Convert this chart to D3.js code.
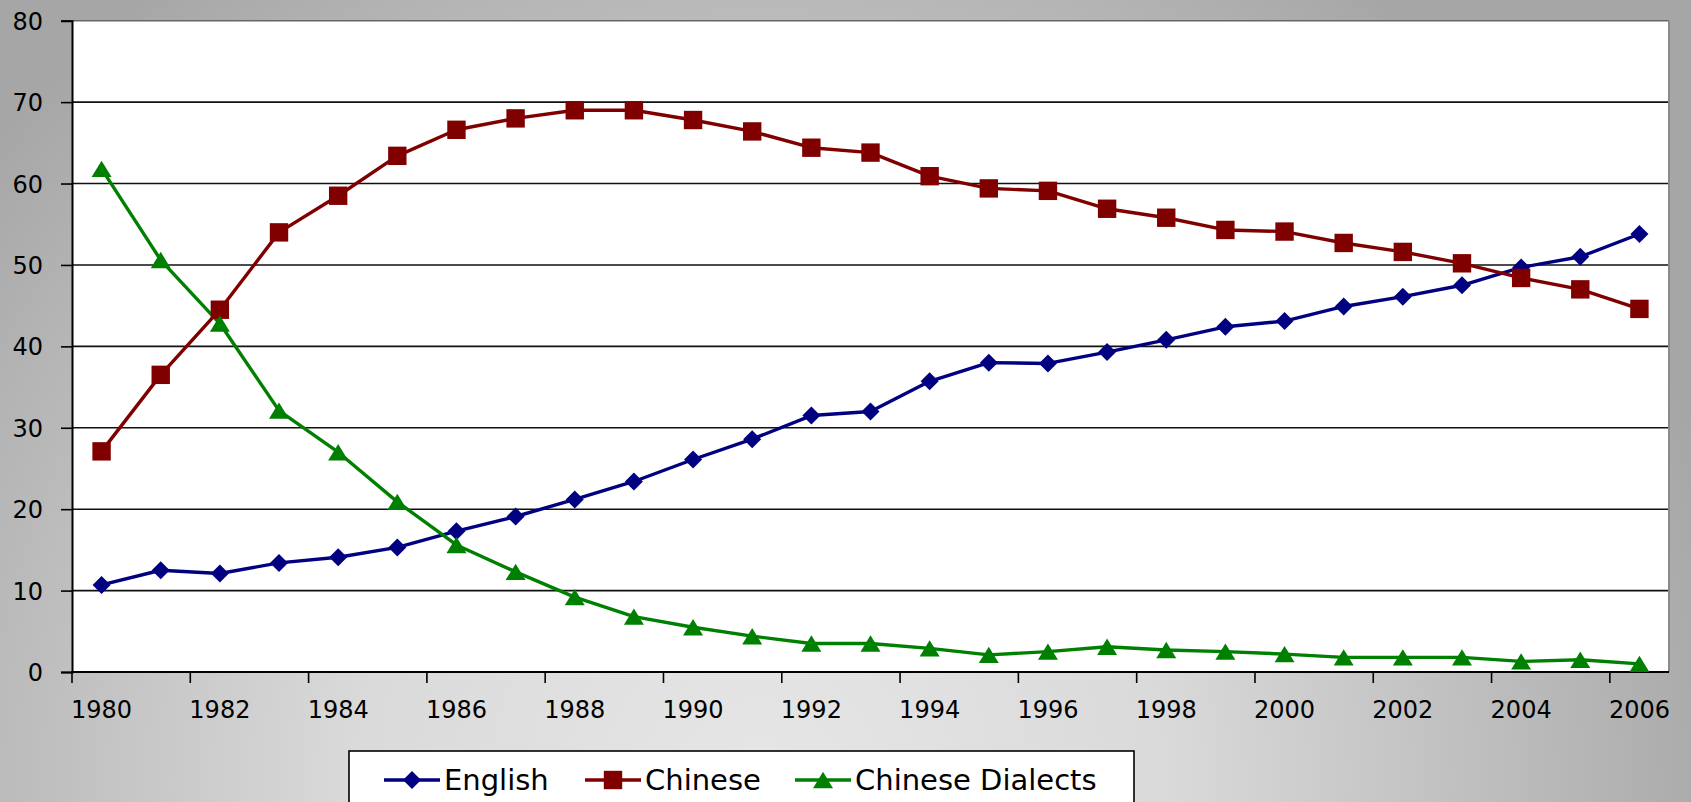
<!DOCTYPE html>
<html>
<head>
<meta charset="utf-8">
<script src="https://cdn.jsdelivr.net/npm/d3@7"></script>
<style>
  html, body { margin: 0; padding: 0; overflow: hidden; }
  svg { display: block; font-family: "DejaVu Sans", sans-serif; }
</style>
</head>
<body>
<svg id="chart" width="1691" height="802"></svg>
<script>
// data (percent)
const years    = d3.range(1980, 2007);
const english  = [10.7, 12.5, 12.1, 13.4, 14.1, 15.3, 17.3, 19.1, 21.2, 23.4, 26.1, 28.6, 31.5, 32.0, 35.7, 38.0, 37.9, 39.3, 40.8, 42.4, 43.1, 44.9, 46.1, 47.5, 49.7, 51.0, 53.8];
const chinese  = [27.1, 36.5, 44.5, 54.0, 58.5, 63.4, 66.6, 68.0, 69.0, 69.0, 67.8, 66.4, 64.4, 63.8, 60.9, 59.4, 59.1, 56.9, 55.8, 54.3, 54.1, 52.7, 51.6, 50.2, 48.4, 47.0, 44.6];
const dialects = [61.8, 50.6, 42.8, 32.1, 27.0, 20.9, 15.6, 12.3, 9.2, 6.8, 5.5, 4.4, 3.5, 3.5, 2.9, 2.1, 2.5, 3.1, 2.7, 2.5, 2.2, 1.8, 1.8, 1.8, 1.3, 1.5, 1.0];
const yTicks   = [0, 10, 20, 30, 40, 50, 60, 70, 80];
const xLabels  = years.filter((d, i) => i % 2 === 0);

const seriesNames  = ["English", "Chinese", "Chinese Dialects"];
const seriesValues = [english, chinese, dialects];
const seriesColors = ["#000080", "#800000", "#008000"];

// Excel-like markers, centred on their bounding box
const diamond  = { draw(ctx, s) { ctx.moveTo(0, -s); ctx.lineTo(s, 0); ctx.lineTo(0, s); ctx.lineTo(-s, 0); ctx.closePath(); } };
const square   = { draw(ctx, s) { ctx.rect(-s, -s, 2 * s, 2 * s); } };
const triangle = { draw(ctx, s) { ctx.moveTo(0, -s * 0.82); ctx.lineTo(s, s * 0.82); ctx.lineTo(-s, s * 0.82); ctx.closePath(); } };
const seriesShapes = [diamond, square, triangle];
const shapeSizes   = [9, 9.2, 10];

const svg = d3.select("#chart");
const fullW = 1691, fullH = 802;
const plot = { left: 72, right: 1669, top: 20.7, bottom: 672 };

// background gradient
const defs = svg.append("defs");
const bg = defs.append("radialGradient")
    .attr("id", "bg")
    .attr("gradientUnits", "userSpaceOnUse")
    .attr("cx", 760).attr("cy", 780).attr("r", 1000);
bg.append("stop").attr("offset", "0").attr("stop-color", "#e6e6e6");
bg.append("stop").attr("offset", "0.4").attr("stop-color", "#dadada");
bg.append("stop").attr("offset", "1").attr("stop-color", "#a6a6a6");

svg.append("rect")
    .attr("width", fullW).attr("height", fullH)
    .attr("fill", "url(#bg)");

// scales
const x = d3.scaleBand()
    .domain(years)
    .range([plot.left, plot.right])
    .padding(0);
const cx = d => x(d) + x.bandwidth() / 2;

const y = d3.scaleLinear()
    .domain([0, 80])
    .range([plot.bottom, plot.top]);

// plot area
svg.append("rect")
    .attr("x", plot.left).attr("y", plot.top)
    .attr("width", plot.right - plot.left)
    .attr("height", plot.bottom - plot.top)
    .attr("fill", "#fff");

// gridlines
svg.append("g")
    .selectAll("line")
    .data(yTicks.filter(d => d > 0))
    .enter().append("line")
    .attr("x1", plot.left).attr("x2", plot.right)
    .attr("y1", d => y(d)).attr("y2", d => y(d))
    .attr("stroke", d => d === 80 ? "#666" : "#111")
    .attr("stroke-width", 1.6);

// right border of the plot
svg.append("line")
    .attr("x1", plot.right).attr("x2", plot.right)
    .attr("y1", plot.top).attr("y2", plot.bottom)
    .attr("stroke", "#8a8a8a")
    .attr("stroke-width", 2);

// y axis
const yAxis = d3.axisLeft(y)
    .tickValues(yTicks)
    .tickSize(11)
    .tickPadding(18)
    .tickFormat(d3.format("d"));

const yG = svg.append("g")
    .attr("transform", `translate(${plot.left},0)`)
    .call(yAxis);
yG.select(".domain").attr("stroke", "#000").attr("stroke-width", 2);
yG.selectAll(".tick line").attr("stroke", "#000").attr("stroke-width", 1.6);
yG.selectAll(".tick text")
    .attr("fill", "#000")
    .attr("font-size", "24px")
    .attr("font-family", "DejaVu Sans, sans-serif")
    .attr("dy", "0.36em");

// x axis: labels on every second category, ticks on category edges
const xAxis = d3.axisBottom(x)
    .tickValues(xLabels)
    .tickSize(0)
    .tickPadding(0)
    .tickSizeOuter(0);

const xG = svg.append("g")
    .attr("transform", `translate(0,${plot.bottom})`)
    .call(xAxis);
xG.select(".domain").remove();
xG.selectAll(".tick text")
    .attr("fill", "#000")
    .attr("font-size", "24px")
    .attr("font-family", "DejaVu Sans, sans-serif")
    .attr("y", 46)
    .attr("dy", 0);

svg.append("line")
    .attr("x1", plot.left - 1).attr("x2", plot.right)
    .attr("y1", plot.bottom).attr("y2", plot.bottom)
    .attr("stroke", "#000")
    .attr("stroke-width", 2);

svg.append("g")
    .selectAll("line")
    .data(xLabels)
    .enter().append("line")
    .attr("x1", d => x(d)).attr("x2", d => x(d))
    .attr("y1", plot.bottom).attr("y2", plot.bottom + 11)
    .attr("stroke", "#000")
    .attr("stroke-width", 1.6);

// series lines + markers
const line = d3.line()
    .x((d, i) => cx(years[i]))
    .y(d => y(d));

seriesValues.forEach((vals, k) => {
    svg.append("path")
        .datum(vals)
        .attr("fill", "none")
        .attr("stroke", seriesColors[k])
        .attr("stroke-width", 3.4)
        .attr("stroke-linejoin", "round")
        .attr("d", line);
});

seriesValues.forEach((vals, k) => {
    const sym = d3.symbol().type(seriesShapes[k]).size(shapeSizes[k]);
    svg.append("g")
        .selectAll("path")
        .data(vals)
        .enter().append("path")
        .attr("transform", (d, i) => `translate(${cx(years[i])},${y(d)})`)
        .attr("d", sym)
        .attr("fill", seriesColors[k]);
});

// legend
const legend = svg.append("g");
legend.append("rect")
    .attr("x", 349).attr("y", 751)
    .attr("width", 785).attr("height", 70)
    .attr("fill", "#fff")
    .attr("stroke", "#000")
    .attr("stroke-width", 1.6);

const legendX = [384, 585, 795];
seriesNames.forEach((name, k) => {
    const gx = legendX[k], gy = 780;
    legend.append("line")
        .attr("x1", gx).attr("x2", gx + 56)
        .attr("y1", gy).attr("y2", gy)
        .attr("stroke", seriesColors[k])
        .attr("stroke-width", 3.4);
    legend.append("path")
        .attr("transform", `translate(${gx + 28},${gy})`)
        .attr("d", d3.symbol().type(seriesShapes[k]).size(shapeSizes[k]))
        .attr("fill", seriesColors[k]);
    legend.append("text")
        .attr("x", gx + 60).attr("y", gy)
        .attr("dy", "0.36em")
        .attr("font-size", "29px")
        .attr("fill", "#000")
        .text(name);
});
</script>
</body>
</html>
